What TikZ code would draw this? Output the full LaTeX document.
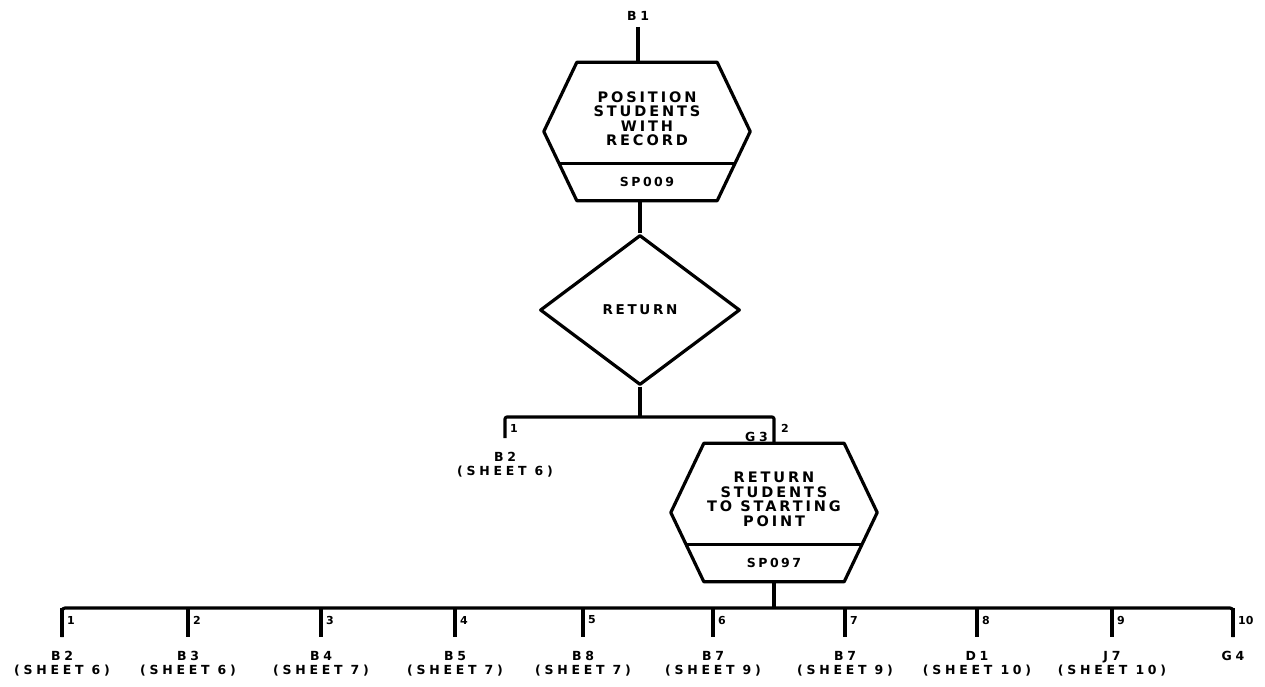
\documentclass[tikz,border=0pt]{standalone}
\usepackage{fontspec}
\setmainfont{DejaVu Sans}
\newfontfamily\chartfont[LetterSpace=20]{DejaVu Sans}
\newfontfamily\exitfont[LetterSpace=30]{DejaVu Sans}
\usetikzlibrary{calc,shapes.geometric}
\tikzset{
  flow/.style={line width=3.2pt, line join=round},
  hexcore/.style={minimum width=140pt, minimum height=138pt, inner sep=0pt},
  boxtext/.style={font=\chartfont\bfseries\fontsize{14.5}{14.5}\selectfont, align=center, inner sep=0pt},
  codetext/.style={font=\chartfont\bfseries\fontsize{12.5}{13}\selectfont, inner sep=0pt},
  exittext/.style={font=\exitfont\bfseries\fontsize{12.5}{14}\selectfont, align=center, inner sep=0pt},
  numtext/.style={font=\bfseries\fontsize{11}{11}\selectfont, inner sep=0pt},
  decision/.style={diamond, draw, flow, minimum width=200pt, minimum height=150pt, aspect=1.33, inner sep=0pt,
    font=\chartfont\bfseries\fontsize{13.5}{13}\selectfont}
}
% hexagonal process box: name, centre, text, code
\def\hexbox(#1)(#2,#3)#4#5{%
  \node[hexcore] (#1) at (#2,#3) {};
  \draw[flow] (#1.north west) -- (#1.north east) -- ($(#1.east)+(33,0)$) -- (#1.south east)
    -- (#1.south west) -- ($(#1.west)+(-33,0)$) -- cycle;
  \draw[flow] ($(#1.south west)+(-18,37)$) -- ($(#1.south east)+(18,37)$);
  \node[boxtext] (#1-text) at ($(#1.center)+(0,13)$) {#4};
  \node[codetext] (#1-code) at ($(#1.south)+(0,19)$) {#5};
}

\begin{document}
\begin{tikzpicture}[x=1pt, y=1pt]
  %%%%% START %%%%%
  \useasboundingbox (0,0) rectangle (1265,-686);

  \node[exittext] (b1) at (638,-16) {B1};
  \hexbox(proc1)(647,-131.5){POSITION\\STUDENTS\\WITH\\RECORD}{SP009}
  \draw[flow] ([yshift=-6pt]b1.south) -- (b1.south |- proc1.north);

  \node[decision] (ret) at (640,-310) {RETURN};
  \draw[flow] (ret.north |- proc1.south) -- (ret.north);

  \hexbox(proc2)(774,-512.5){RETURN\\STUDENTS\\TO STARTING\\POINT}{SP097}

  % first branch
  \coordinate (split) at (640,-417);
  \coordinate (end-a) at (505,-438);
  \draw[flow] (ret.south) -- (split);
  \draw[flow, rounded corners=2pt] (end-a) |- (split) -| (proc2.north);
  \node[numtext, anchor=west] at (510,-428) {1};
  \node[numtext, anchor=west] at (781,-428) {2};
  \node[exittext, anchor=east] (g3) at (768,-437) {G3};
  \node[exittext, anchor=north] (exit-a) at (505,-452) {B2\\(SHEET 6)};

  % second branch
  \coordinate (bus) at (774,-608);
  \draw[flow] (proc2.south) -- (bus);
  \foreach \x/\n/\t in {62/1/{B2\\(SHEET 6)}, 188/2/{B3\\(SHEET 6)}, 321/3/{B4\\(SHEET 7)},
      455/4/{B5\\(SHEET 7)}, 583/5/{B8\\(SHEET 7)}, 713/6/{B7\\(SHEET 9)},
      845/7/{B7\\(SHEET 9)}, 977/8/{D1\\(SHEET 10)}, 1112/9/{J7\\(SHEET 10)}, 1233/10/{G4}} {
    \coordinate (bus\n) at (\x,-608);
    \coordinate (end\n) at (\x,-637);
    \draw[flow] (bus\n) -- (end\n);
    \node[numtext, anchor=west] at ($(bus\n)+(5,-12)$) {\n};
    \node[exittext, anchor=north] (exit\n) at ($(end\n)+(0,-14)$) {\t};
  }
  \draw[flow, rounded corners=3pt] (end1) -- (bus1) -- (bus10) -- (end10);
  %%%%% END %%%%%
\end{tikzpicture}
\end{document}
